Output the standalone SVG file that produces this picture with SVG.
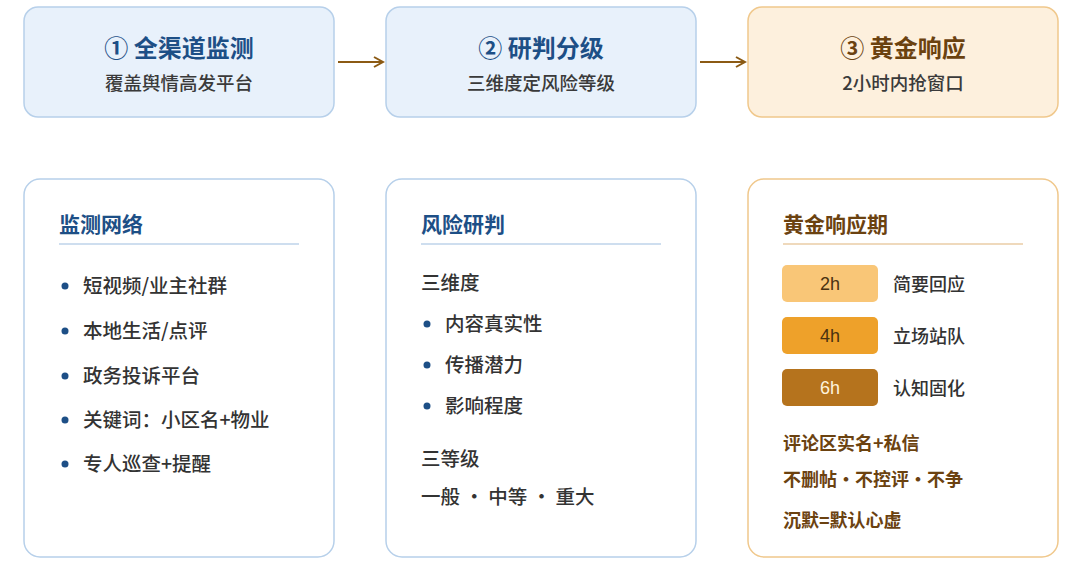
<svg xmlns="http://www.w3.org/2000/svg" width="1080" height="566" viewBox="0 0 1080 566">
<defs>
<style>
text{font-family:"Noto Sans CJK SC","Noto Sans",sans-serif;}
.tb{fill:#e8f1fb;stroke:#b7d0ea;stroke-width:1.5}
.to{fill:#fdf0dd;stroke:#f0c88c;stroke-width:1.5}
.bb{fill:#fff;stroke:#b7d0ea;stroke-width:1.5}
.bo{fill:#fff;stroke:#f0c88c;stroke-width:1.5}
.h1b{font-size:24px;font-weight:700;fill:#1d4f86}
.h1o{font-size:24px;font-weight:700;fill:#6b4210}
.sub{font-size:18.5px;font-weight:500;fill:#3a3a3a}
.h2b{font-size:21px;font-weight:700;fill:#1d4f86}
.h2o{font-size:21px;font-weight:700;fill:#6b4210}
.it{font-size:19.5px;font-weight:500;fill:#333}
.it2{font-size:18px;font-weight:500;fill:#333}
.ito{font-size:18px;font-weight:700;fill:#6b4210}
.hr{font-size:18px;font-family:"Liberation Sans",sans-serif}
.dot{fill:#1d4f86}
.conn{stroke:#8b5a14;stroke-width:2;fill:none}
</style>
<marker id="ah" markerWidth="12" markerHeight="12" refX="10" refY="6" orient="auto" markerUnits="userSpaceOnUse"><path d="M1,1 L10,6 L1,11" fill="none" stroke="#8b5a14" stroke-width="2"/></marker>
</defs>
<rect width="1080" height="566" fill="#fff"/>
<g id="n1"><rect class="tb" x="24" y="7" width="310" height="110" rx="14"/><text class="h1b" x="179" y="57" text-anchor="middle">① 全渠道监测</text><text class="sub" x="179" y="90" text-anchor="middle">覆盖舆情高发平台</text></g>
<g id="n2"><rect class="tb" x="386" y="7" width="310" height="110" rx="14"/><text class="h1b" x="541" y="57" text-anchor="middle">② 研判分级</text><text class="sub" x="541" y="90" text-anchor="middle">三维度定风险等级</text></g>
<g id="n3"><rect class="to" x="748" y="7" width="310" height="110" rx="14"/><text class="h1o" x="903" y="57" text-anchor="middle">③ 黄金响应</text><text class="sub" x="903" y="90" text-anchor="middle">2小时内抢窗口</text></g>
<g id="connectors"><line class="conn" x1="338" y1="62" x2="383" y2="62" marker-end="url(#ah)"/><line class="conn" x1="700" y1="62" x2="745" y2="62" marker-end="url(#ah)"/></g>
<g id="p1"><rect class="bb" x="24" y="179" width="310" height="378" rx="16"/>
<text class="h2b" x="59" y="232">监测网络</text><line x1="59" y1="244" x2="299" y2="244" stroke="#9dbde0" stroke-width="1.2"/>
<circle class="dot" cx="65" cy="286" r="3.5"/><text class="it" x="83" y="293">短视频/业主社群</text>
<circle class="dot" cx="65" cy="331" r="3.5"/><text class="it" x="83" y="338">本地生活/点评</text>
<circle class="dot" cx="65" cy="376" r="3.5"/><text class="it" x="83" y="383">政务投诉平台</text>
<circle class="dot" cx="65" cy="420" r="3.5"/><text class="it" x="83" y="427">关键词：小区名+物业</text>
<circle class="dot" cx="65" cy="464" r="3.5"/><text class="it" x="83" y="471">专人巡查+提醒</text></g>
<g id="p2"><rect class="bb" x="386" y="179" width="310" height="378" rx="16"/>
<text class="h2b" x="421" y="232">风险研判</text><line x1="421" y1="244" x2="661" y2="244" stroke="#9dbde0" stroke-width="1.2"/>
<text class="it" x="421" y="290">三维度</text>
<circle class="dot" cx="427" cy="324" r="3.5"/><text class="it" x="445" y="331">内容真实性</text>
<circle class="dot" cx="427" cy="365" r="3.5"/><text class="it" x="445" y="372">传播潜力</text>
<circle class="dot" cx="427" cy="406" r="3.5"/><text class="it" x="445" y="413">影响程度</text>
<text class="it" x="421" y="466">三等级</text>
<text class="it" x="421" y="504">一般 · 中等 · 重大</text></g>
<g id="p3"><rect class="bo" x="748" y="179" width="310" height="378" rx="16"/>
<text class="h2o" x="783" y="232">黄金响应期</text><line x1="783" y1="244" x2="1023" y2="244" stroke="#e0b47a" stroke-width="1.2"/>
<rect x="782" y="265" width="96" height="37" rx="5" fill="#f9c677"/><text class="hr" x="830" y="290" text-anchor="middle" fill="#4a3210">2h</text><text class="it2" x="893" y="291">简要回应</text>
<rect x="782" y="317" width="96" height="37" rx="5" fill="#eea12a"/><text class="hr" x="830" y="342" text-anchor="middle" fill="#4a3210">4h</text><text class="it2" x="893" y="343">立场站队</text>
<rect x="782" y="369" width="96" height="37" rx="5" fill="#b5731d"/><text class="hr" x="830" y="394" text-anchor="middle" fill="#fff3dc">6h</text><text class="it2" x="893" y="395">认知固化</text>
<text class="ito" x="783" y="450">评论区实名+私信</text>
<text class="ito" x="783" y="486">不删帖·不控评·不争</text>
<text class="ito" x="783" y="527">沉默=默认心虚</text></g>
</svg>
